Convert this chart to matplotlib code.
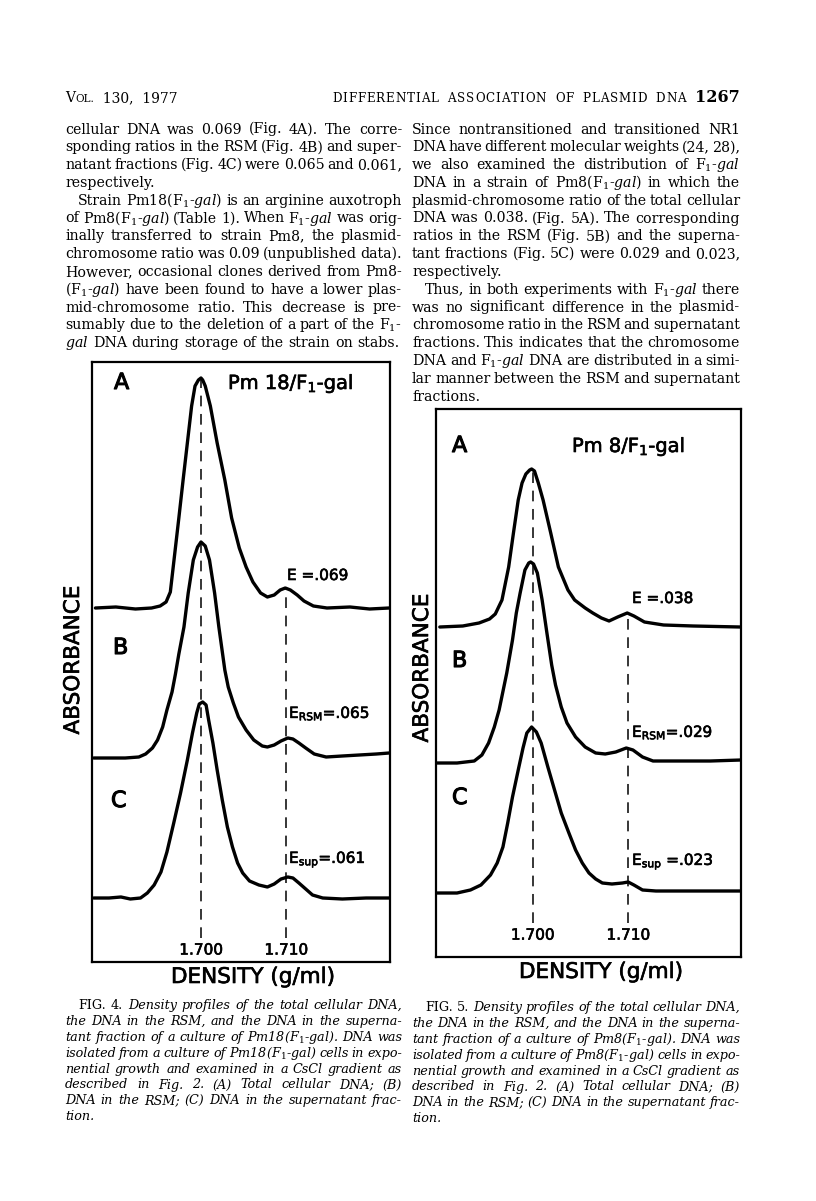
import numpy as np
import matplotlib.pyplot as plt
import matplotlib.patheffects as pe

plt.rcParams['mathtext.fontset'] = 'custom'
plt.rcParams['mathtext.rm'] = 'DejaVu Serif'
plt.rcParams['mathtext.it'] = 'DejaVu Serif:italic'
plt.rcParams['mathtext.sf'] = 'DejaVu Sans'

# ---- Fig. 4 (Pm18/F1-gal): density (g/ml) and absorbance above each trace's baseline ----
f4_xA = [1.6876, 1.6900, 1.6923, 1.6942, 1.6952, 1.6959, 1.6964, 1.6969, 1.6974, 1.6979,
         1.6984, 1.6989, 1.6993, 1.6997, 1.7000, 1.7002, 1.7005, 1.7011, 1.7019, 1.7028,
         1.7036, 1.7045, 1.7053, 1.7061, 1.7070, 1.7078, 1.7086, 1.7093, 1.7099, 1.7105,
         1.7113, 1.7121, 1.7132, 1.7148, 1.7175, 1.7198, 1.7221]
f4_yA = [0.00, 0.01, -0.01, 0.00, 0.02, 0.06, 0.16, 0.53, 0.90, 1.28,
         1.65, 2.02, 2.22, 2.28, 2.30, 2.28, 2.22, 2.02, 1.65, 1.28,
         0.90, 0.60, 0.41, 0.26, 0.15, 0.11, 0.13, 0.18, 0.20, 0.18,
         0.13, 0.07, 0.02, 0.00, 0.01, -0.01, 0.00]
f4_xB = [1.6874, 1.6892, 1.6911, 1.6927, 1.6935, 1.6943, 1.6949, 1.6955, 1.6960, 1.6966,
         1.6970, 1.6974, 1.6980, 1.6985, 1.6991, 1.6996, 1.7000, 1.7005, 1.7010, 1.7016,
         1.7021, 1.7028, 1.7032, 1.7038, 1.7044, 1.7053, 1.7062, 1.7072, 1.7078, 1.7086,
         1.7094, 1.7102, 1.7108, 1.7115, 1.7123, 1.7133, 1.7147, 1.7166, 1.7186, 1.7206,
         1.7221]
f4_yB = [0.00, 0.00, 0.00, 0.01, 0.04, 0.10, 0.18, 0.31, 0.48, 0.66,
         0.84, 1.04, 1.31, 1.65, 1.98, 2.11, 2.16, 2.12, 1.98, 1.65,
         1.31, 0.88, 0.71, 0.55, 0.41, 0.28, 0.18, 0.12, 0.11, 0.13,
         0.17, 0.20, 0.19, 0.15, 0.10, 0.04, 0.01, 0.02, 0.03, 0.04,
         0.05]
f4_xC = [1.6874, 1.6892, 1.6906, 1.6917, 1.6929, 1.6937, 1.6945, 1.6953, 1.6960, 1.6968,
         1.6976, 1.6984, 1.6990, 1.6995, 1.6998, 1.7002, 1.7006, 1.7009, 1.7014, 1.7019,
         1.7025, 1.7031, 1.7037, 1.7043, 1.7049, 1.7057, 1.7068, 1.7078, 1.7086, 1.7094,
         1.7102, 1.7108, 1.7115, 1.7123, 1.7131, 1.7143, 1.7166, 1.7194, 1.7221]
f4_yC = [0.00, 0.00, 0.01, -0.01, 0.00, 0.05, 0.13, 0.26, 0.46, 0.75,
         1.05, 1.38, 1.65, 1.85, 1.94, 1.96, 1.93, 1.78, 1.55, 1.28,
         0.98, 0.71, 0.51, 0.35, 0.25, 0.17, 0.13, 0.11, 0.14, 0.19,
         0.21, 0.20, 0.15, 0.09, 0.03, 0.00, -0.01, 0.00, 0.00]

# ---- Fig. 5 (Pm8/F1-gal) ----
f5_xA = [1.6903, 1.6927, 1.6944, 1.6955, 1.6961, 1.6968, 1.6975, 1.6980, 1.6985, 1.6989,
         1.6993, 1.6997, 1.6999, 1.7002, 1.7006, 1.7011, 1.7019, 1.7027, 1.7037, 1.7044,
         1.7055, 1.7063, 1.7072, 1.7080, 1.7089, 1.7099, 1.7106, 1.7117, 1.7137, 1.7168,
         1.7217]
f5_yA = [0.00, 0.01, 0.04, 0.08, 0.13, 0.27, 0.60, 0.94, 1.27, 1.44,
         1.53, 1.57, 1.58, 1.56, 1.44, 1.27, 0.94, 0.60, 0.37, 0.27,
         0.19, 0.14, 0.09, 0.06, 0.10, 0.14, 0.11, 0.05, 0.02, 0.01,
         0.00]
f5_xB = [1.6900, 1.6921, 1.6939, 1.6947, 1.6954, 1.6960, 1.6965, 1.6973, 1.6979, 1.6983,
         1.6987, 1.6992, 1.6996, 1.6998, 1.7001, 1.7005, 1.7010, 1.7015, 1.7020, 1.7024,
         1.7030, 1.7036, 1.7045, 1.7055, 1.7066, 1.7076, 1.7087, 1.7098, 1.7105, 1.7115,
         1.7126, 1.7151, 1.7186, 1.7218]
f5_yB = [0.00, 0.00, 0.02, 0.08, 0.20, 0.36, 0.53, 0.90, 1.23, 1.50,
         1.70, 1.93, 2.00, 2.01, 1.99, 1.90, 1.63, 1.30, 0.98, 0.78,
         0.56, 0.40, 0.26, 0.16, 0.10, 0.09, 0.11, 0.15, 0.13, 0.06,
         0.02, 0.02, 0.02, 0.03]
f5_xC = [1.6900, 1.6921, 1.6935, 1.6946, 1.6956, 1.6963, 1.6969, 1.6974, 1.6979, 1.6985,
         1.6990, 1.6994, 1.6999, 1.7004, 1.7009, 1.7016, 1.7023, 1.7030, 1.7038, 1.7045,
         1.7052, 1.7059, 1.7066, 1.7073, 1.7083, 1.7094, 1.7100, 1.7106, 1.7115, 1.7129,
         1.7151, 1.7186, 1.7218]
f5_yC = [0.00, 0.00, 0.03, 0.08, 0.18, 0.30, 0.46, 0.70, 0.96, 1.23,
         1.45, 1.60, 1.66, 1.61, 1.50, 1.26, 1.03, 0.80, 0.60, 0.43,
         0.30, 0.20, 0.14, 0.10, 0.09, 0.10, 0.11, 0.08, 0.03, 0.02,
         0.02, 0.02, 0.02]

tick_density = [1.700, 1.710]
tick_labels = ['1.700', '1.710']
f4_title = 'Pm 18/F$_\\mathsf{1}$-gal'
f5_title = 'Pm 8/F$_\\mathsf{1}$-gal'
f4_ratios = ['E =.069', 'E$_\\mathsf{RSM}$=.065', 'E$_\\mathsf{sup}$=.061']
f5_ratios = ['E =.038', 'E$_\\mathsf{RSM}$=.029', 'E$_\\mathsf{sup}$ =.023']

# ---- page text ----
G = 'F$_\\mathrm{1}$-$\\mathit{gal}$'
left_col = [
    "cellular DNA was 0.069 (Fig. 4A). The corre-",
    "sponding ratios in the RSM (Fig. 4B) and super-",
    "natant fractions (Fig. 4C) were 0.065 and 0.061,",
    "respectively.",
    "Strain Pm18(" + G + ") is an arginine auxotroph",
    "of Pm8(" + G + ") (Table 1). When " + G + " was orig-",
    "inally transferred to strain Pm8, the plasmid-",
    "chromosome ratio was 0.09 (unpublished data).",
    "However, occasional clones derived from Pm8-",
    "(" + G + ") have been found to have a lower plas-",
    "mid-chromosome ratio. This decrease is pre-",
    "sumably due to the deletion of a part of the F$_\\mathrm{1}$-",
    "$\\mathit{gal}$ DNA during storage of the strain on stabs.",
]
right_col = [
    "Since nontransitioned and transitioned NR1",
    "DNA have different molecular weights (24, 28),",
    "we also examined the distribution of " + G,
    "DNA in a strain of Pm8(" + G + ") in which the",
    "plasmid-chromosome ratio of the total cellular",
    "DNA was 0.038. (Fig. 5A). The corresponding",
    "ratios in the RSM (Fig. 5B) and the superna-",
    "tant fractions (Fig. 5C) were 0.029 and 0.023,",
    "respectively.",
    "Thus, in both experiments with " + G + " there",
    "was no significant difference in the plasmid-",
    "chromosome ratio in the RSM and supernatant",
    "fractions. This indicates that the chromosome",
    "DNA and " + G + " DNA are distributed in a simi-",
    "lar manner between the RSM and supernatant",
    "fractions.",
]
cap4 = [
    "FIG. 4. Density profiles of the total cellular DNA,",
    "the DNA in the RSM, and the DNA in the superna-",
    "tant fraction of a culture of Pm18(F$_1$-gal). DNA was",
    "isolated from a culture of Pm18(F$_1$-gal) cells in expo-",
    "nential growth and examined in a CsCl gradient as",
    "described in Fig. 2. (A) Total cellular DNA; (B)",
    "DNA in the RSM; (C) DNA in the supernatant frac-",
    "tion.",
]
cap5 = [
    "FIG. 5. Density profiles of the total cellular DNA,",
    "the DNA in the RSM, and the DNA in the superna-",
    "tant fraction of a culture of Pm8(F$_1$-gal). DNA was",
    "isolated from a culture of Pm8(F$_1$-gal) cells in expo-",
    "nential growth and examined in a CsCl gradient as",
    "described in Fig. 2. (A) Total cellular DNA; (B)",
    "DNA in the RSM; (C) DNA in the supernatant frac-",
    "tion.",
]

W, H = 816, 1201
fig = plt.figure(figsize=(W / 100, H / 100), dpi=100)
rend = fig.canvas.get_renderer()
ink = [pe.withStroke(linewidth=0.45, foreground='black')]
heavy = [pe.withStroke(linewidth=0.8, foreground='black')]


def fy(y):
    return 1 - y / H


def put_words(line, x0, x1, y, size, style='normal', justify=True, indent=0, upright=0):
    # place word by word so the line can be justified like the printed column
    items = []
    for i, w in enumerate(line.split(' ')):
        st = 'normal' if i < upright else style
        items.append(fig.text(0, fy(y), w, fontsize=size, family='DejaVu Serif',
                              style=st, va='baseline'))
    widths = [t.get_window_extent(rend).width for t in items]
    x = x0 + indent
    gap = size * 100 / 72 * 0.32
    if justify and len(items) > 1:
        gap = (x1 - x - sum(widths)) / (len(items) - 1)
    for t, w in zip(items, widths):
        t.set_x(x / W)
        x += w + gap


def put_tracked(s, x0, x1, y, size):
    # letter-spaced running head
    items, widths = [], []
    for ch in s:
        if ch == ' ':
            items.append(None)
            widths.append(size * 100 / 72 * 0.6)
            continue
        t = fig.text(0, fy(y), ch, fontsize=size, family='DejaVu Serif', va='baseline')
        items.append(t)
        widths.append(t.get_window_extent(rend).width)
    track = (x1 - x0 - sum(widths)) / (len(items) - 1)
    x = x0
    for t, w in zip(items, widths):
        if t is not None:
            t.set_x(x / W)
        x += w + track


def put_column(lines, x0, x1, y0, step, size, style='normal', plain=(), indents=(), upright=0):
    for i, line in enumerate(lines):
        put_words(line, x0, x1, y0 + i * step, size, style, justify=i not in plain,
                  indent=13 if i in indents else 0, upright=upright if i == 0 else 0)


def panel(box, xlim, offsets, xs, ys, dash_bottom, tick_y):
    l, t, r, b = box
    ax = fig.add_axes([l / W, 1 - b / H, (r - l) / W, (b - t) / H])
    ax.set_xlim(*xlim)
    ax.set_ylim(0, (b - t) / 100)
    ax.set_xticks([])
    ax.set_yticks([])
    for s in ax.spines.values():
        s.set_linewidth(1.6)
    for x, y, off in zip(xs, ys, offsets):
        ax.plot(x, np.array(y) + off, color='black', lw=2.4,
                solid_capstyle='round', solid_joinstyle='round')
    for d in tick_density:
        ytop = offsets[0] + np.interp(d, xs[0], ys[0])
        ax.plot([d, d], [dash_bottom, ytop], color='black', lw=1.1, dashes=(7, 5))
    tr = ax.get_xaxis_transform()
    for d, lab in zip(tick_density, tick_labels):
        ax.text(d, tick_y, lab, transform=tr, ha='center', va='center',
                fontsize=11, family='DejaVu Sans', path_effects=ink)
    return ax


def label(x, y, s, size=11, fx=ink):
    fig.text(x / W, fy(y), s, fontsize=size, family='DejaVu Sans', va='baseline',
             path_effects=fx)


# header
x = 65
for s, size in [('V', 10), ('OL.', 7.6), ('  130,  1977', 10)]:
    t = fig.text(x / W, fy(102), s, fontsize=size, family='DejaVu Serif', va='baseline')
    x += t.get_window_extent(rend).width
put_tracked('DIFFERENTIAL ASSOCIATION OF PLASMID DNA', 332, 686, 102, 8.6)
fig.text(740 / W, fy(102), '1267', fontsize=11.5, weight='bold', family='DejaVu Serif',
         ha='right', va='baseline')

# body text
put_column(left_col, 65, 402, 133.5, 17.8, 10.2, plain=(3, 12), indents=(4,))
put_column(right_col, 412, 740, 133.5, 17.8, 10.2, plain=(8, 15), indents=(9,))

# Fig. 4
panel((92, 362, 390, 962), (1.6872, 1.7222), [3.54, 2.04, 0.64],
      [f4_xA, f4_xB, f4_xC], [f4_yA, f4_yB, f4_yC], 0.24, 0.02)
label(114, 389, 'A', 16, heavy)
label(228, 389, f4_title, 14)
label(287, 580, f4_ratios[0])
label(113, 654, 'B', 16, heavy)
label(289, 718, f4_ratios[1])
label(111, 807, 'C', 16, heavy)
label(289, 863, f4_ratios[2])
fig.text(73 / W, fy(660), 'ABSORBANCE', fontsize=15.5, family='DejaVu Sans',
         rotation=90, ha='center', va='center', path_effects=ink)
fig.text(253 / W, fy(977), 'DENSITY (g/ml)', fontsize=15.5, family='DejaVu Sans',
         ha='center', va='center', path_effects=ink)

# Fig. 5
panel((436, 409, 741, 957), (1.6899, 1.7218), [3.30, 1.94, 0.64],
      [f5_xA, f5_xB, f5_xC], [f5_yA, f5_yB, f5_yC], 0.34, 0.040)
label(452, 452, 'A', 16, heavy)
label(572, 452, f5_title, 14)
label(632, 603, f5_ratios[0])
label(452, 667, 'B', 16, heavy)
label(632, 737, f5_ratios[1])
label(452, 804, 'C', 16, heavy)
label(632, 865, f5_ratios[2])
fig.text(422 / W, fy(668), 'ABSORBANCE', fontsize=15.5, family='DejaVu Sans',
         rotation=90, ha='center', va='center', path_effects=ink)
fig.text(601 / W, fy(972), 'DENSITY (g/ml)', fontsize=15.5, family='DejaVu Sans',
         ha='center', va='center', path_effects=ink)

# captions
put_column(cap4, 65, 402, 1009, 15.9, 9.2, style='italic', plain=(7,), indents=(0,), upright=2)
put_column(cap5, 412, 740, 1011, 15.9, 9.2, style='italic', plain=(7,), indents=(0,), upright=2)

fig.savefig('out.png', dpi=100)
